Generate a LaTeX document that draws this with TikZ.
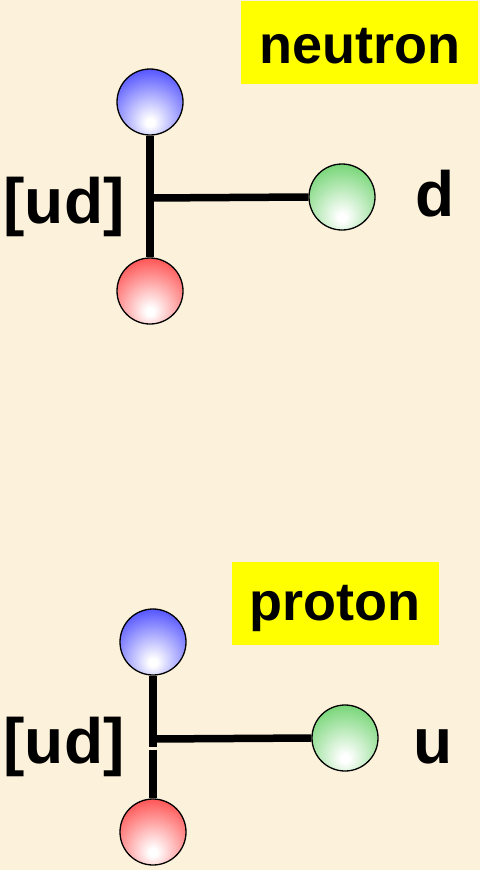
\documentclass[tikz,border=0pt]{standalone}
\usepackage{fontspec}
\setmainfont{Liberation Sans}
\definecolor{bg}{RGB}{252,241,218}
\definecolor{qblue}{RGB}{30,30,255}
\definecolor{qred}{RGB}{255,30,30}
\definecolor{qgreen}{RGB}{75,200,75}
\definecolor{tagyellow}{RGB}{255,255,0}
\pgfdeclareradialshading{ballblue}{\pgfpoint{0bp}{-16bp}}{color(0bp)=(white); color(3bp)=(white); color(46bp)=(qblue); color(100bp)=(qblue)}
\pgfdeclareradialshading{ballred}{\pgfpoint{0bp}{-16bp}}{color(0bp)=(white); color(3bp)=(white); color(46bp)=(qred); color(100bp)=(qred)}
\pgfdeclareradialshading{ballgreen}{\pgfpoint{0bp}{-16bp}}{color(0bp)=(white); color(3bp)=(white); color(46bp)=(qgreen); color(100bp)=(qgreen)}
\tikzset{
  quark/.style={circle, draw=black, line width=1.3pt, minimum size=66pt, inner sep=0pt},
  bond/.style={line width=7.5pt, black},
  tagbox/.style={fill=tagyellow, inner sep=0pt},
  tagtext/.style={inner sep=0pt, anchor=base, font=\fontsize{54}{60}\selectfont\bfseries},
  lbl/.style={inner sep=0pt, anchor=base, font=\fontsize{64}{70}\selectfont\bfseries}
}
\begin{document}
\begin{tikzpicture}[x=1pt,y=-1pt]
\fill[bg] (0,0) rectangle (480,870);
\useasboundingbox (0,0) rectangle (480,870);
% neutron
\node[tagbox, minimum width=237pt, minimum height=83pt] (nbox) at (359.5,42.5) {};
\node[tagtext] (ntxt) at (359.5,63) {neutron};
\node[quark, shading=ballblue] (nb) at (150,102) {};
\node[quark, shading=ballred] (nr) at (150,291) {};
\node[quark, shading=ballgreen] (ng) at (342,197) {};
\coordinate (nj) at (150,198);
\draw[bond] (nb.south) -- (nr.north);
\draw[bond] (nj) -- (ng.west);
\node[lbl] (nud) at (64,223) {[ud]};
\node[lbl] (nq) at (435.5,216) {d};
% proton
\node[tagbox, minimum width=207pt, minimum height=83pt] (pbox) at (335.5,603.5) {};
\node[tagtext] (ptxt) at (335,620) {proton};
\node[quark, shading=ballblue] (pb) at (153,642) {};
\node[quark, shading=ballred] (pr) at (153,832) {};
\node[quark, shading=ballgreen] (pg) at (345,738) {};
\coordinate (pj) at (153,739);
\coordinate (pja) at (153,747);
\coordinate (pjb) at (153,749.5);
\draw[bond] (pb.south) -- (pja);
\draw[bond] (pjb) -- (pr.north);
\draw[bond] (pj) -- (pg.west);
\node[lbl] (pud) at (64,763) {[ud]};
\node[lbl] (pq) at (433,763) {u};
\end{tikzpicture}
\end{document}
